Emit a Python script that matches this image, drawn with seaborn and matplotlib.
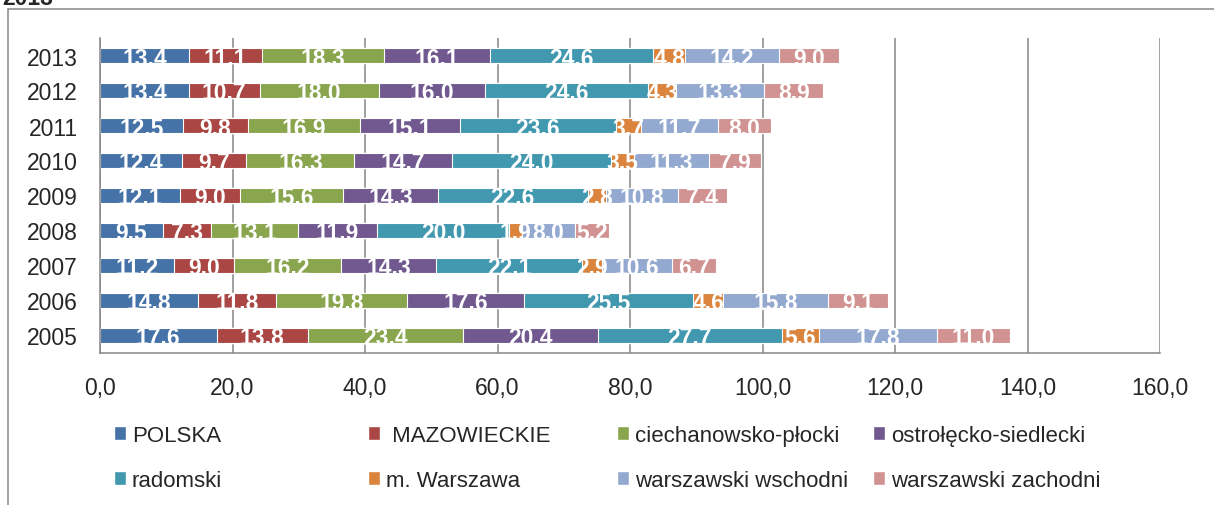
import matplotlib
matplotlib.use('Agg')
import matplotlib.pyplot as plt
import seaborn as sns
import pandas as pd
import numpy as np
from matplotlib.patches import Patch, Rectangle

# data
years = ['2013', '2012', '2011', '2010', '2009', '2008', '2007', '2006', '2005']
series = ['POLSKA', ' MAZOWIECKIE', 'ciechanowsko-płocki', 'ostrołęcko-siedlecki',
          'radomski', 'm. Warszawa', 'warszawski wschodni', 'warszawski zachodni']
polska = [13.4, 13.4, 12.5, 12.4, 12.1, 9.5, 11.2, 14.8, 17.6]
mazowieckie = [11.1, 10.7, 9.8, 9.7, 9.0, 7.3, 9.0, 11.8, 13.8]
ciechanowsko = [18.3, 18.0, 16.9, 16.3, 15.6, 13.1, 16.2, 19.8, 23.4]
ostroleckie = [16.1, 16.0, 15.1, 14.7, 14.3, 11.9, 14.3, 17.6, 20.4]
radomski = [24.6, 24.6, 23.6, 24.0, 22.6, 20.0, 22.1, 25.5, 27.7]
warszawa = [4.8, 4.3, 3.7, 3.5, 2.8, 1.9, 2.9, 4.6, 5.6]
wschodni = [14.2, 13.3, 11.7, 11.3, 10.8, 8.0, 10.6, 15.8, 17.8]
zachodni = [9.0, 8.9, 8.0, 7.9, 7.4, 5.2, 6.7, 9.1, 11.0]
x_ticks = [0, 20, 40, 60, 80, 100, 120, 140, 160]

colors = ['#4572A7', '#AA4643', '#89A54E', '#71588F',
          '#4198AF', '#DB843D', '#93A9CF', '#D19392']

df = pd.DataFrame(dict(zip(series, [polska, mazowieckie, ciechanowsko, ostroleckie,
                                    radomski, warszawa, wschodni, zachodni])),
                  index=years)
cum = df.cumsum(axis=1)

sns.set_style('white')
plt.rcParams['font.family'] = ['Liberation Sans', 'DejaVu Sans']

fig = plt.figure(figsize=(12.14, 5.06), dpi=100)
ax = fig.add_axes([100 / 1214, 1 - 354 / 506, 1060 / 1214, 315 / 506])

# stacked bars: draw cumulative totals from the longest down
for j in reversed(range(len(series))):
    sns.barplot(x=cum.iloc[:, j].values, y=years, order=years, orient='h',
                color=colors[j], saturation=1, width=0.42,
                edgecolor='white', linewidth=0.8, ax=ax)

# white value labels in the middle of each segment
for i, yr in enumerate(years):
    for j, s in enumerate(series):
        v = df.loc[yr, s]
        mid = cum.loc[yr, s] - v / 2
        ax.text(mid, i, f'{v:.1f}', ha='center', va='center_baseline',
                color='white', fontweight='bold', fontsize=16.5)

grey = '#868686'
ax.set_xlim(0, 160)
ax.set_ylim(8.5, -0.5)
ax.set_xticks(x_ticks)
ax.set_xticklabels([f'{t:.1f}'.replace('.', ',') for t in x_ticks], fontsize=16.5)
ax.set_yticks(range(len(years)))
ax.set_yticklabels(years, fontsize=16.5)
ax.set_yticks(np.arange(-0.5, len(years), 1), minor=True)
ax.tick_params(axis='y', which='major', length=0, pad=16)
ax.tick_params(axis='y', which='minor', length=5, width=1.1, color=grey, direction='out')
ax.tick_params(axis='x', length=4.5, width=1.1, color=grey, direction='out', pad=12)
ax.set_xlabel('')
ax.set_ylabel('')
ax.xaxis.grid(True, color=grey, linewidth=1.1)
ax.yaxis.grid(False)
ax.set_axisbelow(True)
for side in ['top', 'right']:
    ax.spines[side].set_visible(False)
for side in ['left', 'bottom']:
    ax.spines[side].set_color(grey)
    ax.spines[side].set_linewidth(1.1)

# chart frame and the clipped title
fig.add_artist(Rectangle((8 / 1214, -0.2), 1.2, 1.2 - 10 / 506, transform=fig.transFigure,
                         fill=False, edgecolor=grey, linewidth=1.1))
fig.text(2 / 1214, 1 - 5 / 506, '2013', fontweight='bold', fontsize=16.5,
         ha='left', va='baseline')

# legend, four columns of two entries
col_x = [114, 368, 617, 873]
for c in range(4):
    handles = [Patch(facecolor=colors[c], label=series[c]),
               Patch(facecolor=colors[c + 4], label=series[c + 4])]
    fig.legend(handles=handles, loc='upper left',
               bbox_to_anchor=(col_x[c] / 1214, 1 - 426 / 506),
               frameon=False, fontsize=16, handlelength=0.55, handleheight=0.55,
               handletextpad=0.25, labelspacing=1.08, borderpad=0, borderaxespad=0)

fig.savefig('out.png', dpi=100)
